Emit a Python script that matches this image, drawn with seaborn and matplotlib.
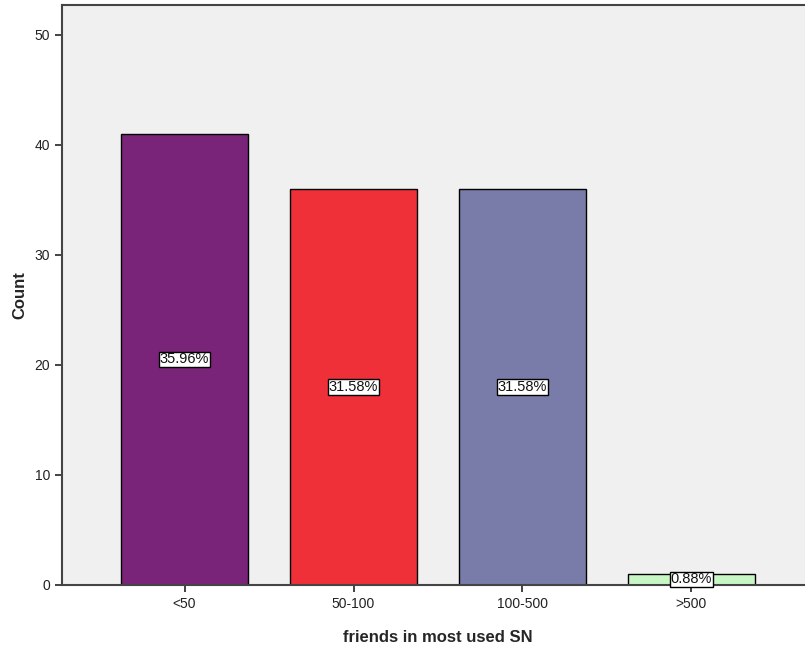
import matplotlib
matplotlib.use("Agg")
import matplotlib.pyplot as plt
import pandas as pd
import seaborn as sns

# data
categories = ["<50", "50-100", "100-500", ">500"]
counts = [41, 36, 36, 1]
pct_labels = ["35.96%", "31.58%", "31.58%", "0.88%"]
bar_colors = ["#7A2479", "#EF3038", "#797CA9", "#C8F7C5"]

sns.set_style("white")
plt.rcParams["font.family"] = ["Arial", "Liberation Sans", "DejaVu Sans"]

df = pd.DataFrame({"group": categories, "count": counts})

fig = plt.figure(figsize=(8.05, 6.5), dpi=100)
ax = fig.add_axes([62 / 805, 65 / 650, 752 / 805, 580 / 650])
ax.set_facecolor("#F0F0F0")

sns.barplot(data=df, x="group", y="count", hue="group", order=categories,
            palette=bar_colors, saturation=1, width=0.75, edgecolor="black",
            linewidth=1, legend=False, ax=ax)

# percent labels in white boxes at half bar height
for i, (c, lab) in enumerate(zip(counts, pct_labels)):
    ax.text(i, c / 2, lab, ha="center", va="center", fontsize=10.5,
            color="#111111",
            bbox=dict(boxstyle="square,pad=0.05", fc="white", ec="black", lw=1))

ax.set_xlim(-0.725, 3.725)
ax.set_ylim(0, 52.7)
ax.set_yticks([0, 10, 20, 30, 40, 50])
ax.tick_params(axis="both", direction="out", length=5, width=1.2,
               labelsize=10, colors="#222222", left=True, bottom=True)
ax.set_xlabel("friends in most used SN", fontsize=12, fontweight="bold",
              labelpad=14)
ax.set_ylabel("Count", fontsize=12, fontweight="bold", labelpad=5)

for side in ["left", "bottom", "top", "right"]:
    ax.spines[side].set_color("#444444")
    ax.spines[side].set_linewidth(1.5)

fig.savefig("out.png", dpi=100)
plt.close(fig)
